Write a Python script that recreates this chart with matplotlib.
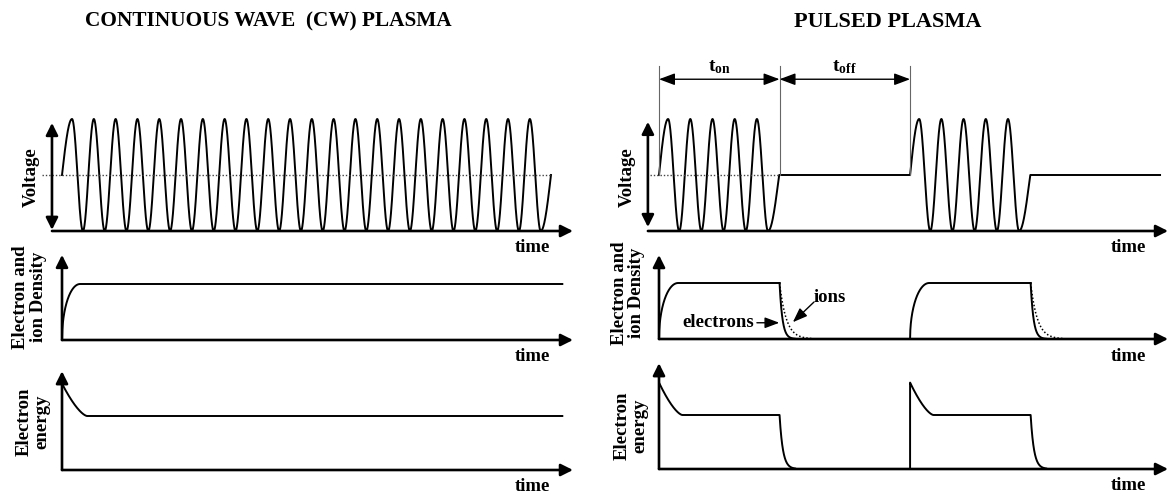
import matplotlib
matplotlib.use('Agg')
import matplotlib.pyplot as plt
import numpy as np

plt.rcParams['font.family'] = ['Liberation Serif', 'DejaVu Serif']
plt.rcParams['font.weight'] = 'bold'
plt.rcParams['mathtext.fontset'] = 'custom'
plt.rcParams['mathtext.rm'] = 'Liberation Serif:bold'
plt.rcParams['mathtext.bf'] = 'Liberation Serif:bold'
plt.rcParams['mathtext.it'] = 'Liberation Serif:bold'

# ---- data (time measured in RF periods, levels normalised) ----
titles = ['CONTINUOUS WAVE  (CW) PLASMA', 'PULSED PLASMA']
row_labels = ['Voltage', 'Electron and\nion Density', 'Electron\nenergy']
axis_label = 'time'

cw_rf_cycles = 22
cw_ramp = [0.46, 0.47]          # first / last quarter cycle, drawn slower
cw_plateau_end = 22.95
cw_axis_end = 23.44

pulse_starts = [0.0, 11.31]
pulse_rf_cycles = 5
pulse_ramp = [0.41, 0.50]
t_on = 5.43
pulse_flat_end = 22.57
pulse_axis_end = 22.93
timing_labels = [r'$\mathbf{t_{on}}$', r'$\mathbf{t_{off}}$']

density_level = 1.0
density_rise = [0.83, 0.86]     # cw, pulsed
electron_tau = 0.13
ion_tau = 0.30

energy_peak = 1.6
energy_level = 1.0
energy_relax = [1.15, 1.05]     # cw, pulsed
energy_tau = 0.15

# ---- figure / layout ----
W, H = 1170, 494
fig = plt.figure(figsize=(W / 100, H / 100), dpi=100)
LW_AX, LW = 1.9, 1.4
FS = 13.5


def overlay(t0_px, sx, base_px, sy):
    # transparent axes over the whole figure, one per panel
    ax = fig.add_axes([0, 0, 1, 1])
    ax.set_xlim(-t0_px / sx, (W - t0_px) / sx)
    ax.set_ylim((base_px - H) / sy, base_px / sy)
    ax.axis('off')
    ax.patch.set_alpha(0)
    return ax


def arrow(ax, p0, p1, style='-|>', lw=LW_AX, hl=0.6, hw=0.3, ms=12):
    ax.annotate('', xy=p1, xytext=p0,
                arrowprops=dict(arrowstyle=f'{style},head_length={hl},head_width={hw}',
                                lw=lw, color='k', shrinkA=0, shrinkB=0,
                                mutation_scale=ms))


def rf_wave(u, n, lead, tail):
    mid = n - 0.5
    phase = np.where(u < lead, 0.25 * u / lead,
                     np.where(u < lead + mid, 0.25 + (u - lead),
                              n - 0.25 + 0.25 * (u - lead - mid) / tail))
    return np.sin(2 * np.pi * phase)


def rise(u, d):
    return density_level * np.sqrt(1 - (1 - np.clip(u / d, 0, 1)) ** 2)


def relax(u, d):
    return energy_level + (energy_peak - energy_level) * (1 - np.clip(u / d, 0, 1)) ** 1.5


# ================= CW column =================
cw = dict(t0_px=62, sx=21.8)

ax = overlay(base_px=175, sy=56, **cw)
dur = sum(cw_ramp) + cw_rf_cycles - 0.5
t = np.linspace(0, dur, 5000)
ax.plot(t, rf_wave(t, cw_rf_cycles, *cw_ramp), color='k', lw=LW)
ax.plot([-0.92, dur + 0.05], [0, 0], color='#444444', lw=1.0, ls=(0, (1, 1.4)))
arrow(ax, (-0.46, -1), (cw_axis_end, -1))
arrow(ax, (-0.46, -0.98), (-0.46, 0.93), style='<|-|>')
ax.text(-1.40, -0.04, row_labels[0], rotation=90, ha='center', va='center', fontsize=FS)
ax.text(21.56, -1.29, axis_label, ha='center', va='center', fontsize=FS)

ax = overlay(base_px=340, sy=56, **cw)
t = np.linspace(0, cw_plateau_end, 3000)
ax.plot(t, rise(t, density_rise[0]), color='k', lw=LW)
arrow(ax, (0, 0), (cw_axis_end, 0))
arrow(ax, (0, 0), (0, 1.52))
ax.text(-1.50, 0.77, row_labels[1], rotation=90, ha='center', va='center',
        fontsize=FS, linespacing=1.05)
ax.text(21.56, -0.30, axis_label, ha='center', va='center', fontsize=FS)

ax = overlay(base_px=470, sy=54, **cw)
t = np.linspace(0, cw_plateau_end, 3000)
ax.plot(t, relax(t, energy_relax[0]), color='k', lw=LW)
arrow(ax, (0, 0), (cw_axis_end, 0))
arrow(ax, (0, 0), (0, 1.83))
ax.text(-1.32, 0.89, row_labels[2], rotation=90, ha='center', va='center',
        fontsize=FS, linespacing=1.05)
ax.text(21.56, -0.30, axis_label, ha='center', va='center', fontsize=FS)

# ================= pulsed column =================
pp = dict(t0_px=659, sx=22.2)
pdur = sum(pulse_ramp) + pulse_rf_cycles - 0.5

ax = overlay(base_px=175, sy=56, **pp)
t = np.linspace(0, pulse_flat_end, 8000)
v = np.zeros_like(t)
for s in pulse_starts:
    m = (t >= s) & (t <= s + pdur)
    v[m] = rf_wave(t[m] - s, pulse_rf_cycles, *pulse_ramp)
ax.plot(t, v, color='k', lw=LW)
ax.plot([-0.41, t_on], [0, 0], color='#444444', lw=1.0, ls=(0, (1, 1.4)))
arrow(ax, (-0.5, -1), (pulse_axis_end, -1))
arrow(ax, (-0.5, -0.93), (-0.5, 0.95), style='<|-|>')
ax.text(-1.45, -0.04, row_labels[0], rotation=90, ha='center', va='center', fontsize=FS)
ax.text(21.13, -1.29, axis_label, ha='center', va='center', fontsize=FS)
# t_on / t_off markers
marks = [pulse_starts[0], t_on, pulse_starts[1]]
for m in marks:
    ax.plot([m, m], [0, 1.95], color='#666666', lw=0.8)
for a, b, lab in zip(marks[:-1], marks[1:], timing_labels):
    arrow(ax, (a, 1.71), (b, 1.71), style='<|-|>', lw=1.0, hl=0.8, hw=0.3, ms=12)
    ax.text((a + b) / 2, 1.93, lab, ha='center', va='center', fontsize=14)

ax = overlay(base_px=339, sy=56, **pp)
for s in pulse_starts:
    t = np.linspace(0, t_on, 1500)
    ax.plot(s + t, rise(t, density_rise[1]), color='k', lw=LW)
    u = np.linspace(0, 0.7, 300)
    ax.plot(s + t_on + u, density_level * np.exp(-u / electron_tau), color='k', lw=LW)
    u = np.linspace(0, 1.5, 300)
    ax.plot(s + t_on + u, density_level * np.exp(-u / ion_tau), color='k', lw=1.1,
            ls=(0, (1, 1.4)))
arrow(ax, (0, 0), (pulse_axis_end, 0))
arrow(ax, (0, 0), (0, 1.5))
ax.text(-1.40, 0.82, row_labels[1], rotation=90, ha='center', va='center',
        fontsize=FS, linespacing=1.05)
ax.text(21.13, -0.32, axis_label, ha='center', va='center', fontsize=FS)
ax.text(7.70, 0.75, 'ions', ha='center', va='center', fontsize=FS)
arrow(ax, (6.98, 0.66), (6.03, 0.30), lw=1.0, hl=0.8, hw=0.3, ms=11)
ax.text(2.68, 0.29, 'electrons', ha='center', va='center', fontsize=FS)
arrow(ax, (4.41, 0.29), (5.42, 0.29), lw=1.0, hl=0.8, hw=0.3, ms=11)

ax = overlay(base_px=469, sy=54, **pp)
for s in pulse_starts:
    t = np.linspace(0, t_on, 1500)
    u = np.linspace(0, 0.7, 300)
    tt = np.concatenate([[0], t, t_on + u])
    ee = np.concatenate([[0], relax(t, energy_relax[1]),
                         energy_level * np.exp(-u / energy_tau)])
    ax.plot(s + tt, ee, color='k', lw=LW)
arrow(ax, (0, 0), (pulse_axis_end, 0))
arrow(ax, (0, 0), (0, 1.96))
ax.text(-1.25, 0.80, row_labels[2], rotation=90, ha='center', va='center',
        fontsize=FS, linespacing=1.05)
ax.text(21.13, -0.30, axis_label, ha='center', va='center', fontsize=FS)

# titles
fig.text(268 / W, 1 - 21 / H, titles[0], ha='center', va='center', fontsize=15.3)
fig.text(888 / W, 1 - 22 / H, titles[1], ha='center', va='center', fontsize=16)

fig.savefig('out.png', dpi=100)
